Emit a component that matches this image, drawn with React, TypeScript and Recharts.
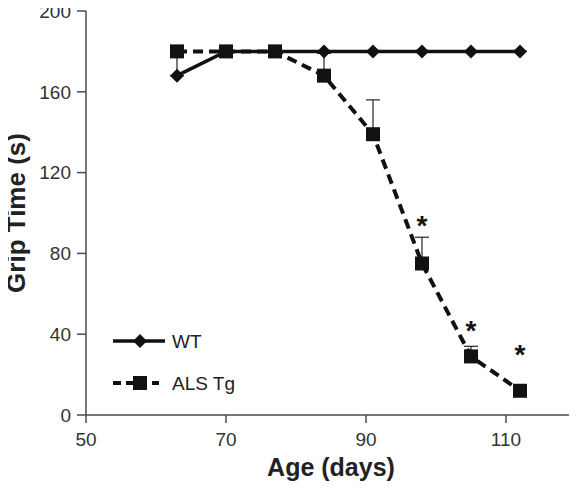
import {
  ComposedChart,
  ErrorBar,
  Label,
  Legend,
  Line,
  XAxis,
  YAxis,
} from 'recharts'

const days = [63, 70, 77, 84, 91, 98, 105, 112]
const wtMean = [168, 180, 180, 180, 180, 180, 180, 180]
const wtSem = [10, 0, 0, 0, 0, 0, 0, 0]
const alsMean = [180, 180, 180, 168, 139, 75, 29, 12]
const alsSem = [0, 0, 0, 11, 17, 13, 5, 2]
// height at which the significance asterisk sits (null = not significant)
const starLevel: (number | null)[] = [null, null, null, null, null, 97, 45, 33]

const xTicks = [50, 70, 90, 110]
const yTicks = [0, 40, 80, 120, 160, 200]
const seriesNames = { wt: 'WT', als: 'ALS Tg' }

const data = days.map((day, i) => ({
  day,
  wt: wtMean[i],
  wtErr: [0, wtSem[i]],
  als: alsMean[i],
  alsErr: [0, alsSem[i]],
  star: starLevel[i],
}))

const FONT = '"Liberation Sans", Arial, Helvetica, sans-serif'
const AXIS = '#4a4a4a'
const INK = '#111'

function Diamond(props: any) {
  const { cx, cy, index } = props
  if (cx == null || cy == null) return <g key={`wd-${index}`} />
  const r = 7
  return (
    <path
      key={`wd-${index}`}
      d={`M${cx},${cy - r} L${cx + r},${cy} L${cx},${cy + r} L${cx - r},${cy} Z`}
      fill={INK}
    />
  )
}

function Square(props: any) {
  const { cx, cy, index } = props
  if (cx == null || cy == null) return <g key={`sq-${index}`} />
  const s = 14
  return <rect key={`sq-${index}`} x={cx - s / 2} y={cy - s / 2} width={s} height={s} fill={INK} />
}

function Star(props: any) {
  const { cx, cy, index, value } = props
  if (value == null || cy == null || Number.isNaN(cy)) return <g key={`st-${index}`} />
  return (
    <text key={`st-${index}`} x={cx} y={cy + 16} textAnchor="middle" fontSize={28} fontWeight={700} fontFamily={FONT} fill={INK}>
      *
    </text>
  )
}

function LegendBox() {
  return (
    <svg width={160} height={74} style={{ display: 'block' }}>
      <line x1={8} x2={60} y1={16} y2={16} stroke={INK} strokeWidth={3.5} />
      <path d="M35,9 L42,16 L35,23 L28,16 Z" fill={INK} />
      <text x={67} y={23} fontSize={19} fontFamily={FONT} fill="#222">{seriesNames.wt}</text>
      <line x1={8} x2={54} y1={58} y2={58} stroke={INK} strokeWidth={4} strokeDasharray="8 5" />
      <rect x={28} y={51} width={14} height={14} fill={INK} />
      <text x={67} y={65} fontSize={19} fontFamily={FONT} fill="#222">{seriesNames.als}</text>
    </svg>
  )
}

export default function App() {
  return (
    <div style={{ margin: '-8px 0 0 -8px', width: 577, height: 488, background: '#fff' }}>
      <ComposedChart width={577} height={488} data={data} margin={{ top: 11, right: 1, left: 0, bottom: 0 }}>
        <XAxis
          dataKey="day"
          type="number"
          domain={[50, 120]}
          ticks={xTicks}
          height={73}
          stroke={AXIS}
          strokeWidth={1.5}
          tickSize={8}
          tickMargin={10}
          tick={{ fontSize: 19, fill: '#333', fontFamily: FONT }}
        >
          <Label
            content={({ viewBox }: any) => (
              <text
                x={viewBox.x + viewBox.width / 2}
                y={476}
                textAnchor="middle"
                fontSize={25}
                fontWeight={700}
                fontFamily={FONT}
                fill="#222"
              >
                Age (days)
              </text>
            )}
          />
        </XAxis>
        <YAxis
          type="number"
          domain={[0, 200]}
          ticks={yTicks}
          width={86}
          stroke={AXIS}
          strokeWidth={1.5}
          tickSize={9}
          tickMargin={6}
          tick={{ fontSize: 19, fill: '#333', fontFamily: FONT }}
        >
          <Label
            content={({ viewBox }: any) => {
              const cy = viewBox.y + viewBox.height / 2
              return (
                <text
                  x={25}
                  y={cy}
                  transform={`rotate(-90, 25, ${cy})`}
                  textAnchor="middle"
                  fontSize={26}
                  fontWeight={700}
                  fontFamily={FONT}
                  fill="#222"
                >
                  Grip Time (s)
                </text>
              )
            }}
          />
        </YAxis>
        <Legend
          layout="horizontal"
          verticalAlign="middle"
          align="center"
          content={() => <LegendBox />}
          wrapperStyle={{ position: 'absolute', left: 105, top: 325, width: 160, height: 74 }}
        />
        <Line
          dataKey="wt"
          name={seriesNames.wt}
          stroke={INK}
          strokeWidth={3.5}
          dot={Diamond}
          activeDot={false}
          isAnimationActive={false}
        >
          <ErrorBar dataKey="wtErr" direction="y" width={7} stroke="#222" strokeWidth={1.2} />
        </Line>
        <Line
          dataKey="als"
          name={seriesNames.als}
          stroke={INK}
          strokeWidth={4}
          strokeDasharray="10 6"
          dot={Square}
          activeDot={false}
          isAnimationActive={false}
        >
          <ErrorBar dataKey="alsErr" direction="y" width={7} stroke="#222" strokeWidth={1.2} />
        </Line>
        <Line
          dataKey="star"
          stroke="none"
          dot={Star}
          activeDot={false}
          legendType="none"
          connectNulls={false}
          isAnimationActive={false}
        />
      </ComposedChart>
    </div>
  )
}
